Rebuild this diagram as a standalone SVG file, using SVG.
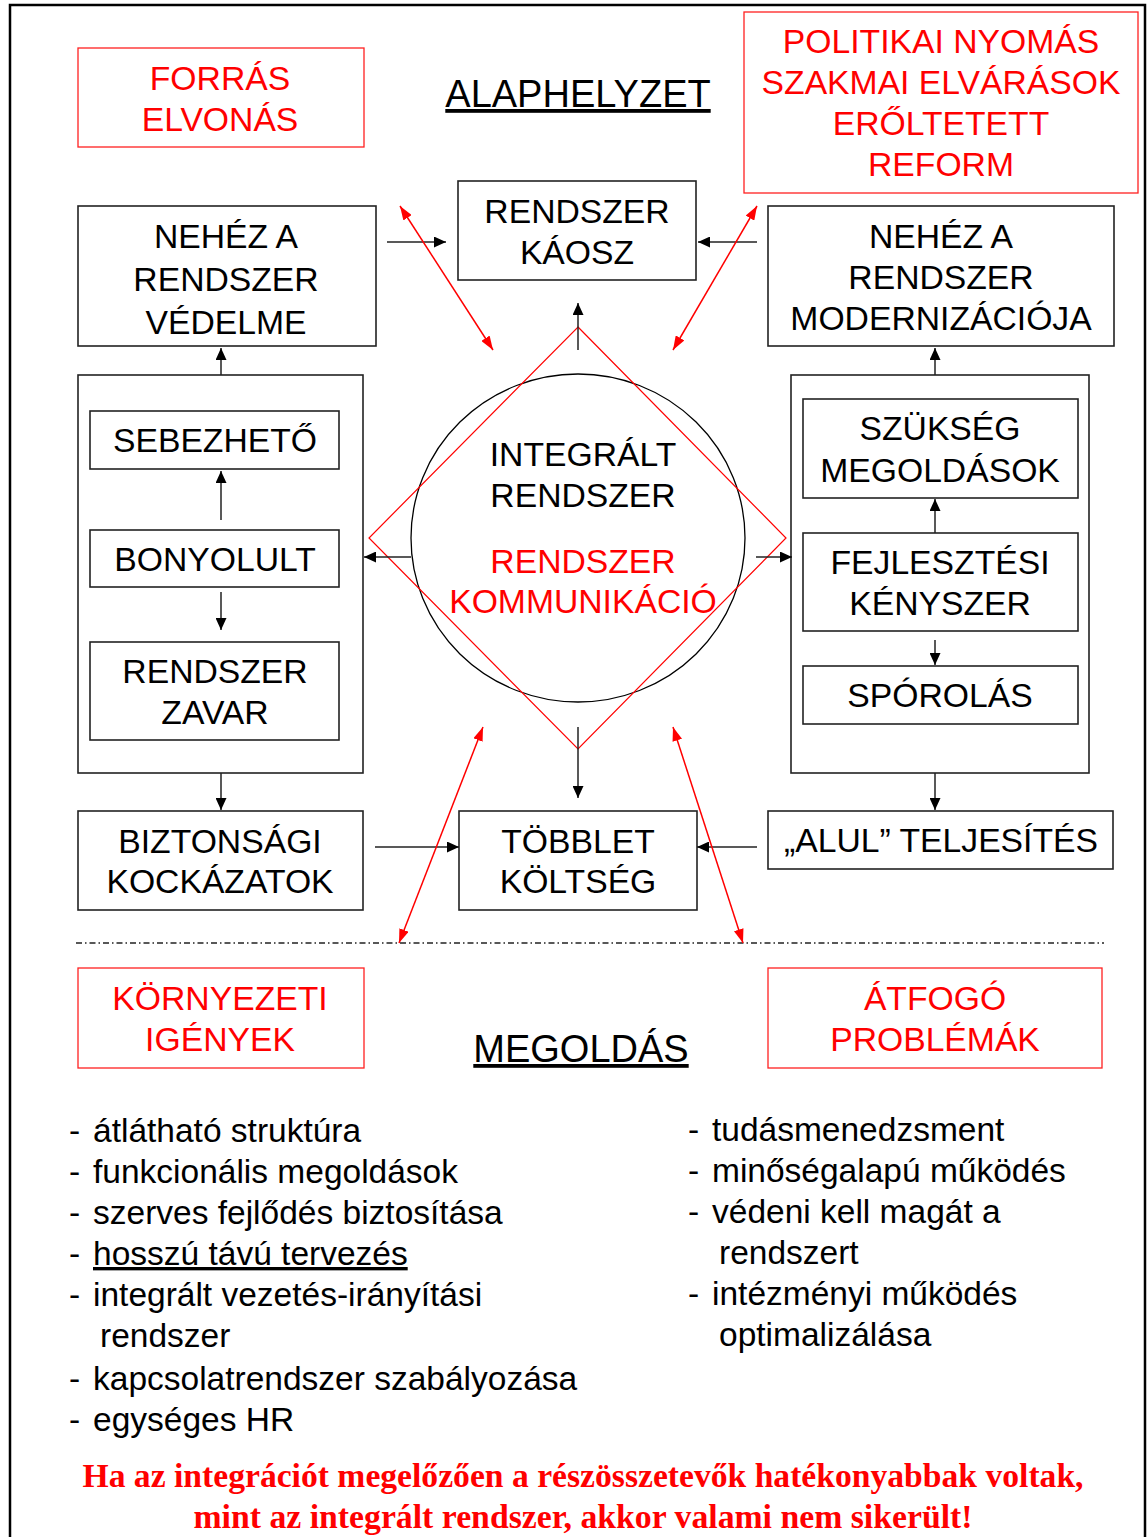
<svg xmlns="http://www.w3.org/2000/svg" width="1148" height="1537" viewBox="0 0 1148 1537">
<style>
text{font-family:"Liberation Sans",Arial,sans-serif;font-size:33.7px;fill:#000}
.c{text-anchor:middle}
.r{fill:#ff0000}
.t{font-size:38px}
.u{text-decoration:underline}
.l{font-size:33.5px}
.box{fill:none;stroke:#222;stroke-width:1.6}
.rbox{fill:none;stroke:#ff2020;stroke-width:1.3}
.ar{stroke:#222;stroke-width:1.5;fill:none;marker-end:url(#ah)}
.rar{stroke:#ff0000;stroke-width:1.5;fill:none;marker-start:url(#rh);marker-end:url(#rh)}
.foot{font-family:"Liberation Serif","Times New Roman",serif;font-weight:bold;fill:#ff0000;font-size:33px;text-anchor:middle}
</style>
<defs>
<marker id="ah" viewBox="0 0 12 11" refX="12" refY="5.5" markerUnits="userSpaceOnUse" markerWidth="12" markerHeight="11" orient="auto"><path d="M0,0 L12,5.5 L0,11 z" fill="#000"/></marker>
<marker id="rh" viewBox="0 0 14 10" refX="14" refY="5" markerUnits="userSpaceOnUse" markerWidth="14" markerHeight="10" orient="auto-start-reverse"><path d="M0,0 L14,5 L0,10 z" fill="#ff0000"/></marker>
</defs>
<rect x="0" y="0" width="1148" height="1537" fill="#fff"/>
<path d="M10,1537 V5 H1145 V1537" fill="none" stroke="#000" stroke-width="2.5"/>

<g id="title-alaphelyzet"><text class="c t u" x="578" y="107">ALAPHELYZET</text></g>

<g id="forras"><rect class="rbox" x="78" y="48" width="286" height="99"/><text class="c r" x="220" y="90">FORRÁS</text><text class="c r" x="220" y="131">ELVONÁS</text></g>

<g id="politikai"><rect class="rbox" x="744" y="12" width="394" height="181"/><text class="c r" x="941" y="53">POLITIKAI NYOMÁS</text><text class="c r" x="941" y="94">SZAKMAI ELVÁRÁSOK</text><text class="c r" x="941" y="135">ERŐLTETETT</text><text class="c r" x="941" y="176">REFORM</text></g>

<g id="nehez-vedelme"><rect class="box" x="78" y="206" width="298" height="140"/><text class="c" x="226" y="248">NEHÉZ A</text><text class="c" x="226" y="291">RENDSZER</text><text class="c" x="226" y="334">VÉDELME</text></g>

<g id="kaosz"><rect class="box" x="458" y="181" width="238" height="99"/><text class="c" x="577" y="223">RENDSZER</text><text class="c" x="577" y="264">KÁOSZ</text></g>

<g id="nehez-modern"><rect class="box" x="768" y="206" width="346" height="140"/><text class="c" x="941" y="248">NEHÉZ A</text><text class="c" x="941" y="289">RENDSZER</text><text class="c" x="941" y="330">MODERNIZÁCIÓJA</text></g>

<g id="left-container"><rect class="box" x="78" y="375" width="285" height="398"/></g>
<g id="sebezheto"><rect class="box" x="90" y="411" width="249" height="58"/><text class="c" x="215" y="452">SEBEZHETŐ</text></g>
<g id="bonyolult"><rect class="box" x="90" y="530" width="249" height="57"/><text class="c" x="215" y="571">BONYOLULT</text></g>
<g id="zavar"><rect class="box" x="90" y="642" width="249" height="98"/><text class="c" x="215" y="683">RENDSZER</text><text class="c" x="215" y="724">ZAVAR</text></g>

<g id="right-container"><rect class="box" x="791" y="375" width="298" height="398"/></g>
<g id="szukseg"><rect class="box" x="803" y="399" width="275" height="99"/><text class="c" x="940" y="440">SZÜKSÉG</text><text class="c" x="940" y="482">MEGOLDÁSOK</text></g>
<g id="fejlesztesi"><rect class="box" x="803" y="533" width="275" height="98"/><text class="c" x="940" y="574">FEJLESZTÉSI</text><text class="c" x="940" y="615">KÉNYSZER</text></g>
<g id="sporolas"><rect class="box" x="803" y="666" width="275" height="58"/><text class="c" x="940" y="707">SPÓROLÁS</text></g>

<g id="integralt"><ellipse cx="578" cy="538" rx="167" ry="164" fill="none" stroke="#000" stroke-width="1.3"/><polygon points="578,327 786,538 578,749 369,538" fill="none" stroke="#ff0000" stroke-width="1.2"/><text class="c" x="583" y="466">INTEGRÁLT</text><text class="c" x="583" y="507">RENDSZER</text><text class="c r" x="583" y="573">RENDSZER</text><text class="c r" x="583" y="613">KOMMUNIKÁCIÓ</text></g>

<g id="biztonsagi"><rect class="box" x="78" y="811" width="285" height="99"/><text class="c" x="220" y="853">BIZTONSÁGI</text><text class="c" x="220" y="893">KOCKÁZATOK</text></g>
<g id="tobblet"><rect class="box" x="459" y="811" width="238" height="99"/><text class="c" x="578" y="853">TÖBBLET</text><text class="c" x="578" y="893">KÖLTSÉG</text></g>
<g id="alul"><rect class="box" x="768" y="811" width="345" height="58"/><text class="c" x="941" y="852">„ALUL” TELJESÍTÉS</text></g>

<g id="separator"><line x1="76" y1="943" x2="1104" y2="943" stroke="#222" stroke-width="1.5" stroke-dasharray="6 3 1.5 3"/></g>

<g id="kornyezeti"><rect class="rbox" x="78" y="968" width="286" height="100"/><text class="c r" x="220" y="1010">KÖRNYEZETI</text><text class="c r" x="220" y="1051">IGÉNYEK</text></g>
<g id="atfogo"><rect class="rbox" x="768" y="968" width="334" height="100"/><text class="c r" x="935" y="1010">ÁTFOGÓ</text><text class="c r" x="935" y="1051">PROBLÉMÁK</text></g>

<g id="title-megoldas"><text class="c t u" x="581" y="1062">MEGOLDÁS</text></g>

<g id="connectors">
<line class="ar" x1="387" y1="242" x2="446" y2="242"/>
<line class="ar" x1="757" y1="242" x2="698" y2="242"/>
<line class="ar" x1="578" y1="350" x2="578" y2="303"/>
<line class="ar" x1="221" y1="375" x2="221" y2="348"/>
<line class="ar" x1="935" y1="375" x2="935" y2="348"/>
<line class="ar" x1="221" y1="520" x2="221" y2="471"/>
<line class="ar" x1="221" y1="592" x2="221" y2="630"/>
<line class="ar" x1="935" y1="533" x2="935" y2="499"/>
<line class="ar" x1="935" y1="640" x2="935" y2="665"/>
<line class="ar" x1="411" y1="557" x2="364" y2="557"/>
<line class="ar" x1="756" y1="557" x2="792" y2="557"/>
<line class="ar" x1="578" y1="727" x2="578" y2="798"/>
<line class="ar" x1="221" y1="773" x2="221" y2="810"/>
<line class="ar" x1="935" y1="773" x2="935" y2="810"/>
<line class="ar" x1="375" y1="847" x2="459" y2="847"/>
<line class="ar" x1="757" y1="847" x2="697" y2="847"/>
<line class="rar" x1="400" y1="206" x2="493" y2="350"/>
<line class="rar" x1="757" y1="206" x2="673" y2="350"/>
<line class="rar" x1="483" y1="727" x2="399" y2="943"/>
<line class="rar" x1="673" y1="727" x2="743" y2="943"/>
</g>

<g id="list-left">
<text class="l" x="69" y="1142">-</text><text class="l" x="93" y="1142">átlátható struktúra</text>
<text class="l" x="69" y="1183">-</text><text class="l" x="93" y="1183">funkcionális megoldások</text>
<text class="l" x="69" y="1224">-</text><text class="l" x="93" y="1224">szerves fejlődés biztosítása</text>
<text class="l" x="69" y="1265">-</text><text class="l u" x="93" y="1265">hosszú távú tervezés</text>
<text class="l" x="69" y="1306">-</text><text class="l" x="93" y="1306">integrált vezetés-irányítási</text>
<text class="l" x="100" y="1347">rendszer</text>
<text class="l" x="69" y="1390">-</text><text class="l" x="93" y="1390">kapcsolatrendszer szabályozása</text>
<text class="l" x="69" y="1431">-</text><text class="l" x="93" y="1431">egységes HR</text>
</g>
<g id="list-right">
<text class="l" x="688" y="1141">-</text><text class="l" x="712" y="1141">tudásmenedzsment</text>
<text class="l" x="688" y="1182">-</text><text class="l" x="712" y="1182">minőségalapú működés</text>
<text class="l" x="688" y="1223">-</text><text class="l" x="712" y="1223">védeni kell magát a</text>
<text class="l" x="719" y="1264">rendszert</text>
<text class="l" x="688" y="1305">-</text><text class="l" x="712" y="1305">intézményi működés</text>
<text class="l" x="719" y="1346">optimalizálása</text>
</g>
<g id="footer">
<text class="foot" x="583" y="1487" textLength="1001" lengthAdjust="spacingAndGlyphs">Ha az integrációt megelőzően a részösszetevők hatékonyabbak voltak,</text>
<text class="foot" x="583" y="1528" textLength="779" lengthAdjust="spacingAndGlyphs">mint az integrált rendszer, akkor valami nem sikerült!</text>
</g>
</svg>
